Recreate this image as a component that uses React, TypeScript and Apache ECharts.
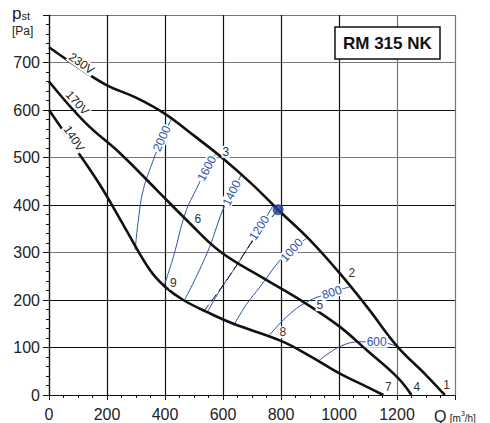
import { useEffect, useRef } from 'react';
import * as echarts from 'echarts';

// Axis ticks
const xTickValues = [0, 200, 400, 600, 800, 1000, 1200, 1400];
const xTickLabels = ['0', '200', '400', '600', '800', '1000', '1200', ''];
const yTickValues = [0, 100, 200, 300, 400, 500, 600, 700, 800];
const yTickLabels = ['0', '100', '200', '300', '400', '500', '600', '700', ''];

// Fan curves [Q, pst]
const curve230V = [[0, 732], [100, 690], [200, 652], [300, 626], [400, 592], [500, 546], [600, 498], [700, 444], [790, 390], [900, 326], [1000, 258], [1100, 183], [1200, 103], [1300, 42], [1365, 0]];
const curve170V = [[0, 660], [124, 574], [245, 509], [371, 432], [475, 368], [590, 302], [739, 246], [877, 196], [1000, 145], [1100, 92], [1200, 38], [1250, 0]];
const curve140V = [[0, 600], [90, 520], [176, 442], [262, 352], [348, 263], [400, 228], [463, 200], [544, 175], [636, 150], [800, 114], [900, 82], [1000, 46], [1100, 16], [1153, 0]];

// Speed lines (rpm)
const speed2000 = [[297, 305], [308, 368], [325, 432], [360, 495], [389, 540], [423, 582]];
const speed1600 = [[397, 230], [429, 291], [470, 383], [509, 435], [544, 477], [574, 507]];
const speed1400 = [[466, 198], [544, 297], [601, 392], [630, 425], [665, 466]];
const speed1200 = [[544, 172], [590, 221], [659, 284], [725, 350], [772, 398]];
const speed1000 = [[636, 146], [680, 190], [728, 228], [797, 284], [837, 305], [894, 333]];
const speed800 = [[756, 123], [820, 165], [889, 196], [975, 216], [1038, 228]];
const speed600 = [[930, 72], [1003, 102], [1072, 112], [1130, 112], [1199, 103]];

// System curve (dashed) and operating point
const systemCurve = [[532, 175], [613, 242], [705, 326], [790, 390]];
const operatingPoint = [[790, 390]];

// Annotation texts: [text, Q, pst, rotation deg]
const curveNameLabels: [string, number, number, number][] = [
  ['230V', 112, 698, -35],
  ['170V', 98, 615, -47],
  ['140V', 86, 540, -57],
];
const pointNumberLabels: [string, number, number, number][] = [
  ['1', 1371, 21, 0], ['2', 1044, 257, 0], ['3', 610, 512, 0], ['4', 1268, 16, 0], ['5', 934, 189, 0],
  ['6', 513, 371, 0], ['7', 1170, 16, 0], ['8', 806, 132, 0], ['9', 429, 235, 0],
];
const speedLabels: [string, number, number, number][] = [
  ['2000', 389, 540, 66], ['1600', 544, 477, 62], ['1400', 630, 425, 64], ['1200', 725, 352, 57],
  ['1000', 837, 305, 48], ['800', 975, 216, 18], ['600', 1130, 112, 0],
];

const FONT = 'Liberation Sans, Arial, sans-serif';
const BLUE = '#2f52a8';
const BLACK = '#111';

export default function App() {
  const ref = useRef<HTMLDivElement>(null);
  useEffect(() => {
    document.body.style.margin = '0';
    if (!ref.current) return;
    const chart = echarts.init(ref.current, undefined, { renderer: 'svg' });

    const curve = (name: string, data: number[][], color: string, width: number, type: any = 'solid', z = 3) => ({
      name,
      type: 'line',
      data,
      smooth: 0.4,
      showSymbol: false,
      symbol: 'none',
      lineStyle: { color, width, type },
      itemStyle: { color },
      z,
      silent: true,
    });

    const staticGraphics: any[] = [
      {
        type: 'text',
        left: 12,
        top: 5,
        style: {
          text: '{p|p}{s|st}',
          rich: {
            p: { fontSize: 17, fontFamily: FONT, fill: '#222' },
            s: { fontSize: 11, fontFamily: FONT, fill: '#222', padding: [4, 0, 0, 0] },
          },
        },
      },
      {
        type: 'text',
        left: 12,
        top: 25,
        style: { text: '[Pa]', fontSize: 12, fontFamily: FONT, fill: '#222' },
      },
      {
        type: 'text',
        left: 434,
        top: 408,
        style: {
          text: '{q|Q} {u|[m}{e|3}{u|/h]}',
          rich: {
            q: { fontSize: 16, fontFamily: FONT, fill: '#222' },
            u: { fontSize: 10, fontFamily: FONT, fill: '#222', padding: [4, 0, 0, 0] },
            e: { fontSize: 7, fontFamily: FONT, fill: '#222', padding: [0, 0, 6, 0] },
          },
        },
      },
    ];

    chart.setOption({
      animation: false,
      backgroundColor: '#fff',
      title: {
        text: 'RM 315 NK',
        left: 335,
        top: 27,
        padding: [6, 8],
        borderColor: BLACK,
        borderWidth: 1.5,
        backgroundColor: '#fff',
        textStyle: { fontFamily: FONT, fontWeight: 'bold', fontSize: 17, color: BLACK, lineHeight: 20 },
        z: 20,
      },
      grid: { left: 49, right: 35, top: 15, bottom: 28 },
      xAxis: {
        type: 'value',
        min: 0,
        max: 1400,
        interval: 200,
        axisLine: { show: true, lineStyle: { color: BLACK, width: 1.2 } },
        axisTick: { show: true, length: 5, lineStyle: { color: BLACK } },
        minorTick: { show: true, splitNumber: 4, length: 3, lineStyle: { color: BLACK } },
        axisLabel: {
          margin: 11,
          fontSize: 16,
          fontFamily: FONT,
          color: '#222',
          formatter: (v: number) => { const i = xTickValues.indexOf(v); return i >= 0 ? xTickLabels[i] : ''; },
        },
        splitLine: {
          show: true,
          lineStyle: { width: 1.2, color: ['#111', '#111', '#111', '#111', '#111', '#111', '#777', '#777'] },
        },
      },
      yAxis: {
        type: 'value',
        min: 0,
        max: 800,
        interval: 100,
        axisLine: { show: true, lineStyle: { color: BLACK, width: 1.2 } },
        axisTick: { show: true, length: 6, lineStyle: { color: BLACK } },
        minorTick: { show: true, splitNumber: 5, length: 3, lineStyle: { color: BLACK } },
        axisLabel: {
          margin: 9,
          fontSize: 16,
          fontFamily: FONT,
          color: '#222',
          formatter: (v: number) => { const i = yTickValues.indexOf(v); return i >= 0 ? yTickLabels[i] : ''; },
        },
        splitLine: {
          show: true,
          lineStyle: { width: 1.2, color: ['#111', '#111', '#111', '#777', '#111', '#777', '#111', '#777', '#777'] },
        },
      },
      graphic: staticGraphics,
      series: [
        curve('2000', speed2000, BLUE, 1),
        curve('1600', speed1600, BLUE, 1),
        curve('1400', speed1400, BLUE, 1),
        curve('1200', speed1200, BLUE, 1),
        curve('1000', speed1000, BLUE, 1),
        curve('800', speed800, BLUE, 1),
        curve('600', speed600, BLUE, 1),
        curve('system', systemCurve, BLACK, 1, [9, 4]),
        curve('230V', curve230V, BLACK, 2.6, 'solid', 5),
        curve('170V', curve170V, BLACK, 2.6, 'solid', 5),
        curve('140V', curve140V, BLACK, 2.6, 'solid', 5),
        {
          type: 'scatter',
          data: operatingPoint,
          symbolSize: 11,
          itemStyle: { color: '#1d3f9a' },
          z: 12,
          silent: true,
        },
      ],
    });

    const toText = (items: [string, number, number, number][], color: string, size: number) =>
      items.map(([t, q, p, rot]) => {
        const [px, py] = chart.convertToPixel({ gridIndex: 0 }, [q, p]) as number[];
        return {
          type: 'text',
          x: px,
          y: py,
          rotation: (rot * Math.PI) / 180,
          z: 50,
          style: {
            text: t,
            fill: color,
            fontSize: size,
            fontFamily: FONT,
            align: 'center',
            verticalAlign: 'middle',
            backgroundColor: '#fff',
            padding: [0, 1],
          },
        };
      });

    chart.setOption({
      graphic: [
        ...staticGraphics,
        ...toText(curveNameLabels, '#222', 12),
        ...toText(pointNumberLabels, '#333', 12),
        ...toText(speedLabels, BLUE, 12),
      ],
    });
    return () => chart.dispose();
  }, []);
  return <div ref={ref} style={{ width: 490, height: 423 }} />;
}
